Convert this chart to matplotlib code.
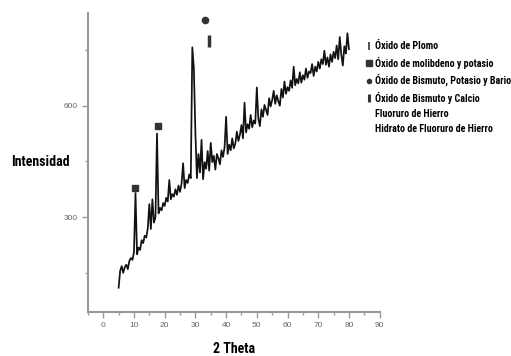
import numpy as np
import matplotlib.pyplot as plt
from matplotlib.ticker import MultipleLocator
from matplotlib.lines import Line2D

fuente = ['Roboto Condensed', 'Oswald', 'DejaVu Sans']
plt.rcParams['font.family'] = ['Liberation Sans', 'DejaVu Sans']

# difractograma, paso de 0.5 grados
theta = np.arange(5.0, 80.01, 0.5)
inten = [110, 155, 168, 150, 165, 172, 160, 182, 190, 185,
         205, 365, 200, 218, 212, 238, 230, 250, 245, 270,
         335, 268, 348, 285, 300, 525, 310, 325, 318, 338,
         330, 352, 342, 400, 348, 362, 355, 375, 360, 385,
         368, 390, 445, 378, 400, 392, 415, 405, 757, 700,
         527, 405, 470, 420, 508, 402, 448, 430, 478, 425,
         500, 448, 465, 428, 470, 458, 442, 480, 462, 488,
         570, 470, 495, 480, 512, 485, 498, 530, 505, 522,
         548, 512, 608, 528, 550, 538, 575, 542, 560, 552,
         649, 565, 545, 590, 570, 602, 588, 575, 620, 598,
         615, 640, 605, 628, 612, 600, 645, 622, 665, 632,
         650, 640, 668, 648, 705, 655, 672, 660, 690, 662,
         682, 670, 700, 675, 692, 688, 712, 680, 705, 692,
         718, 700, 725, 712, 748, 710, 730, 705, 738, 718,
         745, 728, 762, 725, 785, 738, 708, 760, 740, 795,
         752]

# marcas de fases
mo_x = [10.5, 17.7]
mo_y = [378, 546]
bi_ba_x = [33.1]
bi_ba_y = [832]
bi_ca_x = [34.5]
bi_ca_y = [773]

nombres = ['Óxido de Plomo', 'Óxido de molibdeno y potasio',
           'Óxido de Bismuto, Potasio y Bario', 'Óxido de Bismuto y Calcio',
           'Fluoruro de Hierro', 'Hidrato de Fluoruro de Hierro']

fig = plt.figure(figsize=(5.11, 3.56), dpi=100)
ax = fig.add_axes([0.172, 0.124, 0.571, 0.84])

ax.plot(theta, inten, color='#111111', lw=1.25)
ax.plot(mo_x, mo_y, ls='', marker='s', ms=4, color='#333333')
ax.plot(bi_ba_x, bi_ba_y, ls='', marker='o', ms=4.5, color='#333333')
ax.plot(bi_ca_x, bi_ca_y, ls='', marker='|', ms=8, mew=2.5, color='#333333')

ax.set_xlim(-5, 90)
ax.set_ylim(45, 850)
ax.xaxis.set_major_locator(MultipleLocator(10))
ax.xaxis.set_minor_locator(MultipleLocator(5))
ax.yaxis.set_major_locator(MultipleLocator(300))
ax.yaxis.set_minor_locator(MultipleLocator(150))

for s in ['top', 'right']:
    ax.spines[s].set_visible(False)
for s in ['left', 'bottom']:
    ax.spines[s].set_color('#999999')
    ax.spines[s].set_linewidth(1.5)
ax.tick_params(which='major', length=4, width=1, color='#999999',
               labelsize=6, labelcolor='#666666')
ax.tick_params(which='minor', length=2.5, width=1, color='#999999')

ax.set_xlabel('2 Theta', fontsize=10, fontweight='bold', family=fuente,
              labelpad=9)
ax.set_ylabel('Intensidad', fontsize=10, fontweight='bold', family=fuente,
              rotation=0, ha='center', va='center')
ax.yaxis.set_label_coords(-0.163, 0.5)

handles = [Line2D([], [], ls='', marker='|', ms=6, mew=1.2, color='#333333'),
           Line2D([], [], ls='', marker='s', ms=4, color='#333333'),
           Line2D([], [], ls='', marker='o', ms=3, color='#333333'),
           Line2D([], [], ls='', marker='|', ms=6, mew=2.2, color='#333333'),
           Line2D([], [], ls=''),
           Line2D([], [], ls='')]
fig.legend(handles, nombres, loc='upper left', bbox_to_anchor=(0.708, 0.895),
           frameon=False, prop={'weight': 'bold', 'size': 7.2, 'family': fuente},
           handlelength=0.6, handletextpad=0.35, labelspacing=0.53,
           borderaxespad=0)

plt.savefig('out.png')
